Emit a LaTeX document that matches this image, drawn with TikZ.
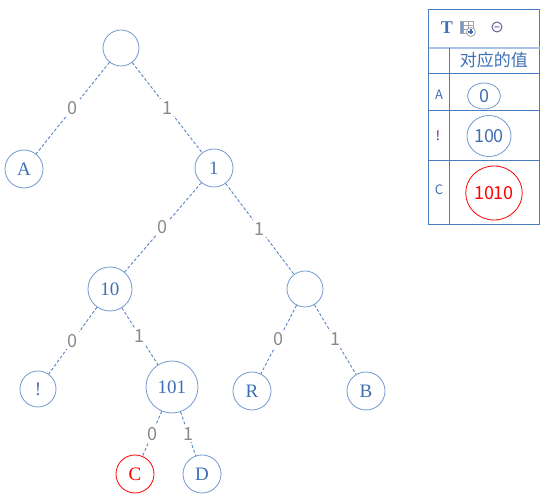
\documentclass[tikz,border=0pt]{standalone}
\usepackage{fontspec}
\setmainfont{Liberation Serif}
\newfontfamily\cjk{Noto Sans CJK SC}
\usetikzlibrary{shapes.geometric}

\definecolor{treeblue}{HTML}{3F6FB5}
\definecolor{ringblue}{HTML}{7398D0}
\definecolor{edgeblue}{HTML}{5A84C4}
\definecolor{bitgray}{HTML}{8A8A8A}
\definecolor{gridblue}{HTML}{4A7CC0}
\definecolor{seplight}{HTML}{A9C4E6}

\tikzset{
	vertex/.style={circle, draw=ringblue, fill=white, text=treeblue, inner sep=0pt,
		font=\fontsize{9.5}{10}\selectfont},
	branch/.style={draw=edgeblue, line width=.45pt, dash pattern=on 1.5pt off 1pt},
	bit/.style={fill=white, inner sep=1pt, text=bitgray, font=\cjk\fontsize{9}{10}\selectfont},
	rowkey/.style={text=treeblue, font=\cjk\fontsize{6.5}{7}\selectfont},
	code/.style={ellipse, draw=ringblue, text=treeblue, inner sep=0pt,
		font=\cjk\fontsize{9}{10}\selectfont}
}

\begin{document}
\begin{tikzpicture}[x=.5pt, y=-.5pt]
	\useasboundingbox (0,0) rectangle (543,497);
	
	% tree
	\node[vertex, minimum size=18pt] (root) at (121,48){};
	\node[vertex, minimum size=19pt] (A) at (24,169){A};
	\node[vertex, minimum size=19pt] (n1) at (214,168){1};
	\node[vertex, minimum size=22pt] (n10) at (110,289){10};
	\node[vertex, minimum size=18pt] (n11) at (305,289){};
	\node[vertex, minimum size=18pt] (excl) at (38,389){!};
	\node[vertex, minimum size=26pt] (n101) at (172,387){101};
	\node[vertex, minimum size=19pt] (R) at (252,391){R};
	\node[vertex, minimum size=19pt] (B) at (366,391){B};
	\node[vertex, minimum size=19pt, draw=red, text=red] (C) at (135,474){C};
	\node[vertex, minimum size=19pt] (D) at (202,474){D};
	
	\draw[branch] (root) -- node[bit]{0} (A);
	\draw[branch] (root) -- node[bit]{1} (n1);
	\draw[branch] (n1) -- node[bit]{0} (n10);
	\draw[branch] (n1) -- node[bit]{1} (n11);
	\draw[branch] (n10) -- node[bit]{0} (excl);
	\draw[branch] (n10) -- node[bit]{1} (n101);
	\draw[branch] (n11) -- node[bit]{0} (R);
	\draw[branch] (n11) -- node[bit]{1} (B);
	\draw[branch] (n101) -- node[bit]{0} (C);
	\draw[branch] (n101) -- node[bit]{1} (D);
	
	% table
	\draw[gridblue, line width=.5pt] (429,10) rectangle (540,225);
	\draw[seplight, line width=1pt] (429,48) -- (540,48);
	\draw[gridblue, line width=.5pt] (450,48) -- (450,225);
	\foreach \y in {74,111,161}
		\draw[gridblue, line width=.5pt] (429,\y) -- (540,\y);
	
	\node[text=treeblue, font=\fontsize{9}{10}\selectfont\bfseries] (tool) at (447,28){T};
	\fill[ringblue] (460,21) rectangle (463.5,33);
	\draw[gray!70, line width=.4pt] (460,21) rectangle (473,33) (463.5,21) -- (463.5,33)
		(463.5,25) -- (473,25) (463.5,29) -- (473,29) (468,21) -- (468,33);
	\draw[gray!70, fill=white, line width=.4pt] (471,32) circle (4.5);
	\draw[treeblue, line width=.6pt] (468.5,32) -- (473.5,32) (471,29.5) -- (471,34.5);
	\draw[gray!80!blue, line width=.5pt] (497,27) circle (5) (494.5,27) -- (499.5,27);
	
	\node[text=treeblue, font=\cjk\fontsize{8.5}{10}\selectfont] (head) at (494,60){对应的值};
	\node[rowkey] (keyA) at (439,95){A};
	\node[rowkey, text=violet!70!blue] (keyE) at (438,136){!};
	\node[rowkey] (keyC) at (439,190){C};
	\node[code, minimum width=16.5pt, minimum height=13pt] (codeA) at (484,96){0};
	\node[code, minimum width=22pt, minimum height=20.5pt] (codeE) at (489,136){100};
	\node[code, minimum width=27pt, minimum height=27pt, draw=red, text=red] (codeC) at (494,193){1010};
\end{tikzpicture}
\end{document}
